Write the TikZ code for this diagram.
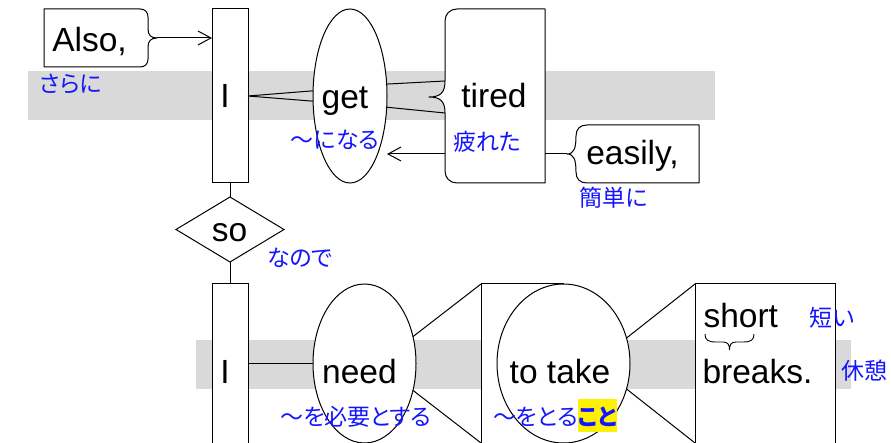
\documentclass[tikz,border=0pt]{standalone}
\usepackage{fontspec}
\setmainfont{Liberation Sans}
\newfontfamily\jpfont[RawFeature=+palt]{Noto Sans CJK JP}
\usetikzlibrary{shapes.geometric,arrows.meta,calc}
\definecolor{jpblue}{RGB}{20,20,255}
\setlength{\fboxsep}{0pt}
\begin{document}
\begin{tikzpicture}[x=1pt,y=-1pt,
  line width=1pt,
  band/.style={fill=black!15, draw=none},
  box/.style={draw, fill=white, line join=round},
  shapenode/.style={draw, fill=white, inner sep=0pt, outer sep=0pt},
  word/.style={inner sep=0pt, anchor=base, font=\fontsize{33.5}{40}\selectfont},
  gloss/.style={inner sep=0pt, text=jpblue, font=\jpfont\fontsize{23}{28}\selectfont},
  arr/.style={-{Straight Barb[length=13pt,width=14pt]}},
]
\useasboundingbox (0,0) rectangle (891,443);
% bands
\fill[band] (28,71) rectangle (715,120);
\fill[band] (196,340) rectangle (851,389);

% ---------- top clause ----------
\node[shapenode, minimum width=36pt, minimum height=174pt] (topIbox) at (230,96) {};
\node[shapenode, ellipse, minimum width=74pt, minimum height=174pt] (getell) at (350,96) {};

% Also box
\draw[box] (44,9) -- (140,9) .. controls (145,9) and (148,12) .. (148,17) -- (148,29)
  .. controls (148,35) and (151,38) .. (157,38) .. controls (151,38) and (148,41) .. (148,47)
  -- (148,59) .. controls (148,64) and (145,67) .. (140,67) -- (44,67) -- cycle;
\coordinate (alsotip) at (157,38);
\draw[arr] (alsotip) -- (alsotip -| topIbox.west);

% tired box
\draw[box] (457,9) -- (545,9) -- (545,183) -- (457,183) .. controls (450,183) and (445,178) .. (445,171)
  -- (445,113) .. controls (445,101) and (440,97) .. (429,97) .. controls (440,97) and (445,93) .. (445,81)
  -- (445,21) .. controls (445,14) and (450,9) .. (457,9) -- cycle;
\coordinate (tiredtop) at (445,81);
\coordinate (tiredbot) at (445,113);
\coordinate (tiredleft) at (445,154);
\coordinate (tiredright) at (545,154);

% easily box
\draw[box] (587,125) -- (699,125) -- (699,183) -- (587,183) .. controls (580,183) and (576,179) .. (576,172)
  .. controls (576,160) and (574,154) .. (567,154) .. controls (574,154) and (576,148) .. (576,136)
  .. controls (576,129) and (580,125) .. (587,125) -- cycle;
\coordinate (easilytip) at (567,154);

% connectors top
\draw (topIbox.east) -- (getell.172);
\draw (topIbox.east) -- (getell.188);
\draw (getell.18) -- (tiredtop);
\draw (getell.-17) -- (tiredbot);
\draw[arr] (tiredleft) -- (tiredleft -| getell.east);
\draw (tiredright) -- (easilytip);

% ---------- so ----------
\node[shapenode, diamond, minimum width=108pt, minimum height=65pt] (sodia) at (230,229.5) {};

% ---------- bottom clause ----------
\node[shapenode, minimum width=36pt, minimum height=176pt] (botIbox) at (230,372) {};
\draw (topIbox.south) -- (sodia.north);
\draw (sodia.south) -- (botIbox.north);
\node[shapenode, ellipse, minimum width=103pt, minimum height=159pt] (needell) at (364.5,363.5) {};
\node[shapenode, minimum width=82pt, minimum height=190pt, anchor=north west] (takebox) at (481,284) {};
\node[shapenode, ellipse, minimum width=133pt, minimum height=159pt] (takeell) at (563.5,363.5) {};
\node[shapenode, minimum width=140pt, minimum height=190pt, anchor=north west] (breaksbox) at (695,284) {};
\coordinate (takebl) at (481,443);
\coordinate (breaksbl) at (695,443);

\draw (botIbox.east |- needell.west) -- (needell.west);
\draw (needell.29) -- (takebox.north west);
\draw (needell.-29) -- (takebl);
\draw (takeell.22) -- (breaksbox.north west);
\draw (takeell.-22) -- (breaksbl);

% brace under "short"
\draw[line width=0.9pt] (705,334) .. controls (705,340) and (708,342) .. (716,342) -- (723,342)
  .. controls (728,342) and (729.5,345) .. (729.5,350) .. controls (729.5,345) and (731,342) .. (736,342)
  -- (743,342) .. controls (751,342) and (754,340) .. (754,334);

% ---------- words ----------
\node[word] (also) at (89.5,52) {Also,};
\node[word] (Itop) at (225,108) {I};
\node[word] (get) at (345,109) {get};
\node[word] (tired) at (494,108) {tired};
\node[word] (easily) at (632.5,165) {easily,};
\node[word] (so) at (229.5,242) {so};
\node[word] (Ibot) at (225,383) {I};
\node[word] (need) at (359.5,383) {need};
\node[word] (totake) at (560,383) {to take};
\node[word, anchor=base west] (short) at (703,327) {short};
\node[word, anchor=base west] (breaks) at (702,383) {breaks.};

% ---------- glosses ----------
\node[gloss] (sarani) at (71,84) {さらに};
\node[gloss] (ninaru) at (335,140) {～になる};
\node[gloss] (tsukareta) at (487,142) {疲れた};
\node[gloss] (kantanni) at (614,197.5) {簡単に};
\node[gloss] (nanode) at (300,257.5) {なので};
\node[gloss] (hitsuyou) at (356,417) {～を必要とする};
\node[gloss, anchor=base] (toru) at (555,425) {～をとる\colorbox{yellow}{\bfseries\rule[-7pt]{0pt}{33pt}こと}};
\node[gloss] (mijikai) at (832,317.5) {短い};
\node[gloss] (kyuukei) at (864.5,371) {休憩};
\end{tikzpicture}
\end{document}
